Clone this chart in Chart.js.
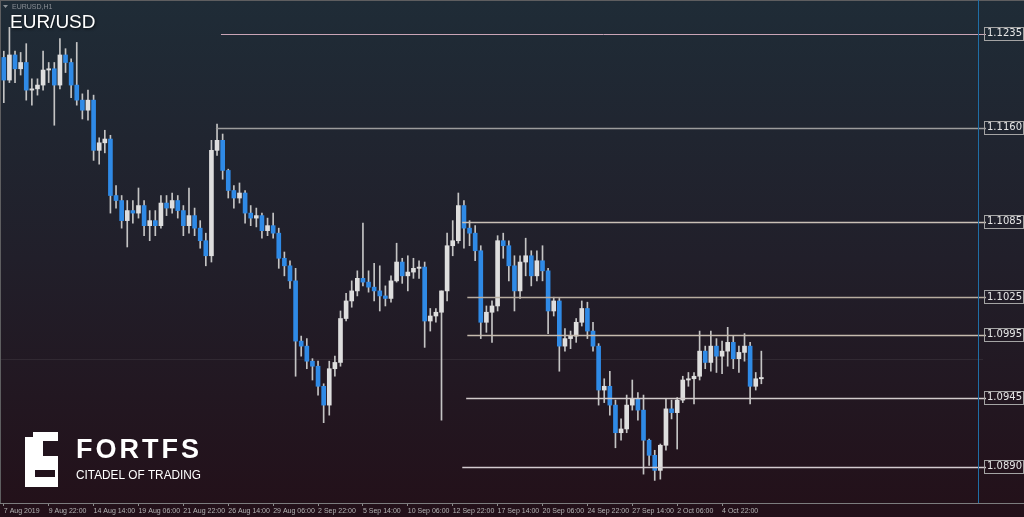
<!DOCTYPE html>
<html>
<head>
<meta charset="utf-8">
<title>EUR/USD H1</title>
<script src="https://cdn.jsdelivr.net/npm/chart.js@4.4.1/dist/chart.umd.min.js"></script>
<style>
  html, body { margin: 0; padding: 0; }
  body {
    width: 1024px; height: 517px; overflow: hidden;
    background: linear-gradient(to bottom, #1f2c37 0%, #211f2a 50%, #231019 100%);
  }
  #wrap { position: relative; width: 1024px; height: 517px; }
</style>
</head>
<body>
<div id="wrap"><canvas id="grafica" width="1024" height="517"></canvas></div>
<script>
const tickLabels = ["7 Aug 2019", "9 Aug 22:00", "14 Aug 14:00", "19 Aug 06:00", "21 Aug 22:00",
  "26 Aug 14:00", "29 Aug 06:00", "2 Sep 22:00", "5 Sep 14:00", "10 Sep 06:00", "12 Sep 22:00",
  "17 Sep 14:00", "20 Sep 06:00", "24 Sep 22:00", "27 Sep 14:00", "2 Oct 06:00", "4 Oct 22:00"];

const opens = [
  1.1216, 1.1198, 1.1218, 1.1207, 1.1212, 1.1190, 1.1191, 1.1194, 1.1206, 1.1207,
  1.1194, 1.1218, 1.1212, 1.1194, 1.1182, 1.1174, 1.1182, 1.1142, 1.1148, 1.1151,
  1.1106, 1.1102, 1.1086, 1.1094, 1.1092, 1.1098, 1.1082, 1.1086, 1.1082, 1.1100,
  1.1096, 1.1102, 1.1094, 1.1082, 1.1090, 1.1080, 1.1070, 1.1058, 1.1142, 1.1150,
  1.1126, 1.1110, 1.1104, 1.1108, 1.1092, 1.1088, 1.1090, 1.1078, 1.1082, 1.1076,
  1.1056, 1.1050, 1.1038, 1.0990, 1.0986, 1.0974, 1.0970, 1.0954, 1.0939, 1.0968,
  1.0973, 1.1008, 1.1022, 1.1030, 1.1040, 1.1037, 1.1033, 1.1030, 1.1026, 1.1024,
  1.1038, 1.1053, 1.1042, 1.1045, 1.1048, 1.1049, 1.1006, 1.1010, 1.1013, 1.1030,
  1.1066, 1.1070, 1.1098, 1.1080, 1.1076, 1.1062, 1.1005, 1.1013, 1.1018, 1.1070,
  1.1066, 1.1050, 1.1030, 1.1053, 1.1058, 1.1042, 1.1054, 1.1046, 1.1014, 1.1022,
  1.0986, 1.0992, 1.0994, 1.1005, 1.1016, 1.0998, 1.0986, 1.0951, 1.0954, 1.0939,
  1.0917, 1.0920, 1.0939, 1.0944, 1.0935, 1.0911, 1.0899, 1.0887, 1.0907, 1.0936,
  1.0933, 1.0943, 1.0959, 1.0960, 1.0962, 1.0982, 1.0973, 1.0986, 1.0978, 1.0982,
  1.0989, 1.0976, 1.0981, 1.0986, 1.0954, 1.0960
];
const highs = [
  1.1221, 1.1240, 1.1221, 1.1220, 1.1227, 1.1199, 1.1199, 1.1221, 1.1212, 1.1212,
  1.1231, 1.1223, 1.1215, 1.1228, 1.1187, 1.1190, 1.1186, 1.1152, 1.1158, 1.1154,
  1.1114, 1.1106, 1.1102, 1.1102, 1.1112, 1.1102, 1.1094, 1.1094, 1.1106, 1.1106,
  1.1108, 1.1106, 1.1098, 1.1112, 1.1096, 1.1086, 1.1076, 1.1150, 1.1163, 1.1155,
  1.1127, 1.1114, 1.1116, 1.1110, 1.1098, 1.1096, 1.1092, 1.1088, 1.1092, 1.1080,
  1.1061, 1.1054, 1.1048, 1.0994, 1.0992, 1.0976, 1.0974, 1.0956, 1.0974, 1.0978,
  1.1014, 1.1028, 1.1038, 1.1046, 1.1084, 1.1046, 1.1052, 1.1050, 1.1034, 1.1042,
  1.1068, 1.1056, 1.1058, 1.1056, 1.1054, 1.1053, 1.1016, 1.1016, 1.1030, 1.1076,
  1.1086, 1.1108, 1.1102, 1.1086, 1.1082, 1.1066, 1.1018, 1.1022, 1.1074, 1.1076,
  1.1070, 1.1058, 1.1058, 1.1072, 1.1062, 1.1062, 1.1066, 1.1048, 1.1025, 1.1024,
  1.1000, 1.0998, 1.1008, 1.1022, 1.1021, 1.1005, 1.0988, 1.0960, 1.0966, 1.0943,
  1.0928, 1.0947, 1.0959, 1.0949, 1.0947, 1.0912, 1.0903, 1.0908, 1.0944, 1.0943,
  1.0945, 1.0962, 1.0965, 1.0965, 1.0998, 1.0986, 1.0998, 1.0992, 1.0990, 1.1001,
  1.0994, 1.0986, 1.0996, 1.0989, 1.0965, 1.0982
];
const lows = [
  1.1180, 1.1196, 1.1196, 1.1202, 1.1182, 1.1178, 1.1186, 1.1190, 1.1196, 1.1162,
  1.1191, 1.1204, 1.1184, 1.1178, 1.1167, 1.1166, 1.1134, 1.1131, 1.1140, 1.1092,
  1.1096, 1.1080, 1.1065, 1.1084, 1.1088, 1.1074, 1.1070, 1.1074, 1.1080, 1.1090,
  1.1092, 1.1088, 1.1074, 1.1076, 1.1074, 1.1064, 1.1050, 1.1053, 1.1138, 1.1119,
  1.1104, 1.1096, 1.1100, 1.1084, 1.1082, 1.1081, 1.1072, 1.1074, 1.1072, 1.1048,
  1.1042, 1.1032, 1.0962, 1.0978, 1.0968, 1.0959, 1.0947, 1.0925, 1.0931, 1.0962,
  1.0970, 1.1006, 1.1017, 1.1026, 1.1034, 1.1029, 1.1022, 1.1014, 1.1018, 1.1021,
  1.1037, 1.1036, 1.1030, 1.1040, 1.1040, 1.0985, 1.0998, 1.1005, 1.0927, 1.1022,
  1.1058, 1.1068, 1.1064, 1.1066, 1.1054, 1.0992, 1.0997, 1.0989, 1.1014, 1.1056,
  1.1038, 1.1014, 1.1024, 1.1042, 1.1034, 1.1038, 1.1038, 1.0996, 1.1010, 1.0966,
  1.0982, 1.0984, 1.0989, 1.1002, 1.0992, 1.0982, 1.0939, 1.0941, 1.0931, 1.0905,
  1.0911, 1.0917, 1.0935, 1.0927, 1.0884, 1.0891, 1.0879, 1.0880, 1.0903, 1.0928,
  1.0904, 1.0941, 1.0954, 1.0940, 1.0959, 1.0968, 1.0966, 1.0965, 1.0964, 1.0970,
  1.0968, 1.0965, 1.0974, 1.0940, 1.0951, 1.0956
];
const closes = [
  1.1198, 1.1218, 1.1207, 1.1212, 1.1190, 1.1191, 1.1194, 1.1206, 1.1207, 1.1194,
  1.1218, 1.1212, 1.1194, 1.1182, 1.1174, 1.1182, 1.1142, 1.1148, 1.1151, 1.1106,
  1.1102, 1.1086, 1.1094, 1.1092, 1.1098, 1.1082, 1.1086, 1.1082, 1.1100, 1.1096,
  1.1102, 1.1094, 1.1082, 1.1090, 1.1080, 1.1070, 1.1058, 1.1142, 1.1150, 1.1126,
  1.1110, 1.1104, 1.1108, 1.1092, 1.1088, 1.1090, 1.1078, 1.1082, 1.1076, 1.1056,
  1.1050, 1.1038, 1.0990, 1.0986, 1.0974, 1.0970, 1.0954, 1.0939, 1.0968, 1.0973,
  1.1008, 1.1022, 1.1030, 1.1040, 1.1037, 1.1033, 1.1030, 1.1026, 1.1024, 1.1038,
  1.1053, 1.1042, 1.1045, 1.1048, 1.1049, 1.1006, 1.1010, 1.1013, 1.1030, 1.1066,
  1.1070, 1.1098, 1.1080, 1.1076, 1.1062, 1.1005, 1.1013, 1.1018, 1.1070, 1.1066,
  1.1050, 1.1030, 1.1053, 1.1058, 1.1042, 1.1054, 1.1046, 1.1014, 1.1022, 1.0986,
  1.0992, 1.0994, 1.1005, 1.1016, 1.0998, 1.0986, 1.0951, 1.0954, 1.0939, 1.0917,
  1.0920, 1.0939, 1.0944, 1.0935, 1.0911, 1.0899, 1.0887, 1.0907, 1.0936, 1.0933,
  1.0943, 1.0959, 1.0960, 1.0962, 1.0982, 1.0973, 1.0986, 1.0978, 1.0982, 1.0989,
  1.0976, 1.0981, 1.0986, 1.0954, 1.0960, 1.0961
];

// Niveles horizontales y la vela donde empieza cada uno
const levelPrices = [1.1235, 1.1160, 1.1085, 1.1025, 1.0995, 1.0945, 1.0890];
const levelStarts = [38.7, 37.8, 81.7, 82.6, 82.6, 82.4, 81.7];
const lastPrice = 1.0976;
const totalSlots = 175;

// 2. ESTILOS
const BULL = "#dedede";
const BEAR = "#2f8ae6";
const WICK = "#c4c4c4";
const levelColors = ["#c9a4b6", "#9c9c9c", "#c9c0b6", "#b8ada0", "#c6bbae", "#d2cbcb", "#d3cbcf"];

const categories = Array.from({ length: totalSlots }, (_, i) =>
  (i % 8 === 0 && tickLabels[i / 8]) ? tickLabels[i / 8] : "");
const wicks = lows.map((l, i) => [l, highs[i]]);
const bodies = opens.map((o, i) => [o, closes[i]]);
const bodyColors = opens.map((o, i) => closes[i] >= o ? BULL : BEAR);

// 3. DECORACIÓN (niveles, marco, títulos, logo)
const decor = {
  id: "decor",
  beforeDatasetsDraw(chart) {
    const { ctx, chartArea: a, scales: { y } } = chart;
    const py = Math.round(y.getPixelForValue(lastPrice)) + 0.5;
    ctx.save();
    ctx.strokeStyle = "rgba(255,255,255,0.07)";
    ctx.lineWidth = 1;
    ctx.beginPath(); ctx.moveTo(a.left, py); ctx.lineTo(a.right, py); ctx.stroke();
    ctx.restore();
  },
  afterDatasetsDraw(chart) {
    const { ctx, scales: { x, y } } = chart;
    ctx.save();
    levelPrices.forEach((p, i) => {
      const py = Math.round(y.getPixelForValue(p)) + 0.5;
      ctx.strokeStyle = levelColors[i];
      ctx.lineWidth = i === 0 ? 1 : 1.4;
      ctx.beginPath();
      ctx.moveTo(x.getPixelForValue(levelStarts[i]), py);
      ctx.lineTo(y.left + 3, py);
      ctx.stroke();
    });
    ctx.restore();
  },
  afterDraw(chart) {
    const { ctx, chartArea: a, scales: { y }, width } = chart;
    ctx.save();
    // marco
    ctx.strokeStyle = "#5e5e60";
    ctx.lineWidth = 1;
    ctx.beginPath(); ctx.moveTo(0, 0.5); ctx.lineTo(width, 0.5); ctx.stroke();
    ctx.beginPath(); ctx.moveTo(0.5, 0); ctx.lineTo(0.5, a.bottom); ctx.stroke();
    ctx.strokeStyle = "#7c7c7e";
    ctx.beginPath(); ctx.moveTo(0, a.bottom + 0.5); ctx.lineTo(width, a.bottom + 0.5); ctx.stroke();
    // línea vertical azul
    ctx.strokeStyle = "#1f6ea6";
    ctx.beginPath(); ctx.moveTo(a.right - 4.5, 0); ctx.lineTo(a.right - 4.5, a.bottom); ctx.stroke();
    // cajas de precio
    ctx.font = "10px 'DejaVu Sans'";
    ctx.strokeStyle = "#a4a4a4";
    const tx = y.left + y.options.ticks.padding;
    levelPrices.forEach(p => {
      const py = Math.round(y.getPixelForValue(p));
      const w = ctx.measureText(p.toFixed(4)).width;
      ctx.strokeRect(tx - 2.5, py - 6.5, w + 4, 13);
    });
    // títulos
    ctx.fillStyle = "#8b9096";
    ctx.beginPath(); ctx.moveTo(3, 5); ctx.lineTo(8, 5); ctx.lineTo(5.5, 8); ctx.closePath(); ctx.fill();
    ctx.font = "7px 'Liberation Sans'";
    ctx.textBaseline = "alphabetic";
    ctx.fillText("EURUSD,H1", 12, 9);
    ctx.shadowColor = "rgba(0,0,0,0.7)";
    ctx.shadowBlur = 3; ctx.shadowOffsetX = 1; ctx.shadowOffsetY = 1;
    ctx.fillStyle = "#ffffff";
    ctx.font = "19px 'Liberation Sans'";
    ctx.fillText("EUR/USD", 10, 28);
    ctx.restore();
    drawLogo(ctx);
  }
};

function drawLogo(ctx) {
  ctx.save();
  ctx.fillStyle = "#ffffff";
  ctx.fillRect(25, 437, 10, 50);   // columna izquierda
  ctx.fillRect(33, 432, 25, 9);    // barra superior
  ctx.fillRect(35, 441, 8, 15);    // columna interior
  ctx.fillRect(25, 456, 33, 14);   // barra central
  ctx.fillRect(55, 470, 3, 7);     // lado derecho
  ctx.fillRect(25, 477, 33, 10);   // barra inferior
  ctx.font = "bold 27px 'Liberation Sans'";
  ctx.letterSpacing = "3px";
  ctx.fillText("FORTFS", 76, 458);
  ctx.letterSpacing = "0px";
  ctx.font = "12px 'Liberation Sans'";
  ctx.fillText("CITADEL OF TRADING", 76, 479, 125);
  ctx.restore();
}

// 4. GRÁFICA
const chart = new Chart(document.getElementById("grafica"), {
  type: "bar",
  data: {
    labels: categories,
    datasets: [
      { label: "wick", data: wicks, backgroundColor: WICK, barThickness: 1, grouped: false, order: 2 },
      { label: "body", data: bodies, backgroundColor: bodyColors, barThickness: 4, minBarLength: 1, grouped: false, order: 1 }
    ]
  },
  options: {
    responsive: false,
    animation: false,
    events: [],
    layout: { padding: { left: 1, top: 1, right: 0, bottom: 0 } },
    plugins: { legend: { display: false }, tooltip: { enabled: false } },
    scales: {
      x: {
        offset: true,
        grid: { display: true, drawOnChartArea: false, drawTicks: true, tickLength: 3, color: "#8a8a8a", offset: false },
        border: { display: false },
        ticks: { autoSkip: false, maxRotation: 0, align: "start", padding: 1, color: "#b4b4b4",
                 font: { family: "Liberation Sans", size: 7 } },
        afterBuildTicks: ax => { ax.ticks = ax.ticks.filter(t => categories[t.value] !== ""); },
        afterFit: ax => { ax.height = 14; ax.paddingLeft = 0; ax.paddingRight = 0; }
      },
      y: {
        position: "right",
        min: 1.0861,
        max: 1.1261,
        grid: { display: false, drawTicks: false },
        border: { display: false },
        ticks: { autoSkip: false, padding: 4, color: "#e6e6e6", font: { family: "DejaVu Sans", size: 10 },
                 callback: v => Number(v).toFixed(4) },
        afterBuildTicks: ax => { ax.ticks = levelPrices.map(v => ({ value: v })); },
        afterFit: ax => { ax.width = 41; ax.paddingTop = 0; ax.paddingBottom = 0; }
      }
    }
  },
  plugins: [decor]
});
</script>
</body>
</html>
